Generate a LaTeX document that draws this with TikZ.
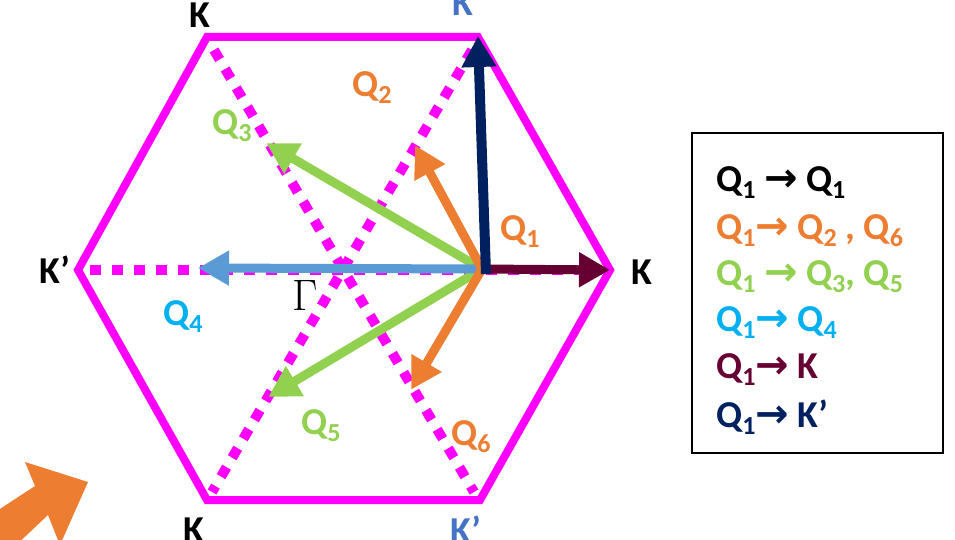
\documentclass[tikz,border=0pt]{standalone}
\usepackage{fontspec}
\setmainfont{Carlito}
\newfontfamily\arrfont{DejaVu Sans}
\newfontfamily\gfont{Latin Modern Roman}
\usetikzlibrary{arrows.meta}
\definecolor{mag}{HTML}{FF00FF}
\definecolor{qorange}{HTML}{ED7D31}
\definecolor{qgreen}{HTML}{92D050}
\definecolor{qblue}{HTML}{5B9BD5}
\definecolor{qcyan}{HTML}{00B0F0}
\definecolor{qmaroon}{HTML}{660033}
\definecolor{qnavy}{HTML}{002060}
\definecolor{kblue}{HTML}{4472C4}
\newcommand\sbs[1]{\raisebox{-7pt}{\fontsize{26}{26}\selectfont #1}}
\newcommand\rarr{{\arrfont\bfseries\fontsize{40}{40}\selectfont →}}
\tikzset{
  lbl/.style={font=\fontsize{38}{38}\selectfont\bfseries, inner sep=0pt},
  hexline/.style={draw=mag, line width=8pt, line join=miter},
  dotline/.style={draw=mag, line width=10pt, dash pattern=on 11pt off 11pt},
  vec/.style={line width=9pt, -{Triangle[width=33pt,length=31pt]}, shorten >=-2pt},
  leg/.style={anchor=west, inner sep=0pt, font=\fontsize{38}{38}\selectfont\bfseries}
}
\begin{document}
\begin{tikzpicture}[x=1pt,y=-1pt]
\useasboundingbox (0,0) rectangle (955,540);
% hexagon vertices
\coordinate (VR) at (610,270);
\coordinate (VTR) at (478,37);
\coordinate (VTL) at (207,37);
\coordinate (VL) at (78,270);
\coordinate (VBL) at (207,500);
\coordinate (VBR) at (480,500);
\draw[hexline] (VR) -- (VTR) -- (VTL) -- (VL) -- (VBL) -- (VBR) -- cycle;
% dotted diagonals
\draw[dotline] (214,50) -- (474,492);
\draw[dotline] (472,50) -- (212,492);
\draw[dotline] (90,270) -- (602,270);
% vectors
\coordinate (O) at (482,269);
\coordinate (T2) at (416,147);
\coordinate (T6) at (412,388);
\coordinate (T3) at (268,144);
\coordinate (T5) at (270,396);
\coordinate (T4) at (200,268);
\coordinate (TK) at (608,270);
\coordinate (TKp) at (478,38);
\coordinate (Ob) at (486,274);
\draw[vec, qgreen] (O) -- (T3);
\draw[vec, qgreen] (O) -- (T5);
\draw[vec, qblue] (O) -- (T4);
\draw[vec, qorange] (O) -- (T2);
\draw[vec, qorange] (O) -- (T6);
\draw[vec, qmaroon] (O) -- (TK);
\draw[vec, qnavy, line width=10pt] (Ob) -- (TKp);
% labels
\node[lbl] (lKtl) at (200,15) {K};
\node[lbl, text=kblue] (lKtr) at (463,3) {K};
\node[lbl] (lKl) at (55,270) {K’};
\node[lbl] (lKr) at (642,272) {K};
\node[lbl] (lKbl) at (194,530) {K};
\node[lbl, text=kblue] (lKbr) at (466,530) {K’};
\node[lbl, text=qorange] (lQ2) at (372,88) {Q\sbs{2}};
\node[lbl, text=qgreen] (lQ3) at (232,126) {Q\sbs{3}};
\node[lbl, text=qorange] (lQ1) at (520,232) {Q\sbs{1}};
\node[lbl, text=qcyan] (lQ4) at (183,317) {Q\sbs{4}};
\node[lbl, text=qgreen] (lQ5) at (321,426) {Q\sbs{5}};
\node[lbl, text=qorange] (lQ6) at (471,437) {Q\sbs{6}};
\node[inner sep=0pt, font=\gfont\fontsize{44}{44}\selectfont] (lG) at (305,296) {Γ};
% legend
\draw[line width=1.5pt] (692,133) rectangle (943,453);
\node[leg] (L1) at (716,183) {Q\sbs{1} \rarr{} Q\sbs{1}};
\node[leg, text=qorange] (L2) at (716,231) {Q\sbs{1}\rarr{} Q\sbs{2} , Q\sbs{6}};
\node[leg, text=qgreen] (L3) at (716,277) {Q\sbs{1} \rarr{} Q\sbs{3}, Q\sbs{5}};
\node[leg, text=qcyan] (L4) at (716,323) {Q\sbs{1}\rarr{} Q\sbs{4}};
\node[leg, text=qmaroon] (L5) at (716,370) {Q\sbs{1}\rarr{} K};
\node[leg, text=qnavy] (L6) at (716,417) {Q\sbs{1}\rarr{} K’};
% big orange arrow (bottom-left)
\begin{scope}
\clip (0,0) rectangle (955,540);
\fill[qorange] (88,482) -- (25,462) -- (35,486) -- (-20,522) -- (-5,565) -- (48,515) -- (60,545) -- cycle;
\end{scope}
\end{tikzpicture}
\end{document}
